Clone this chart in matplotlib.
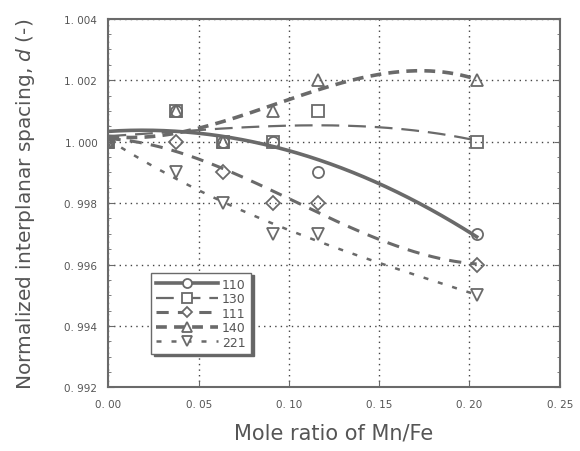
import numpy as np
import matplotlib
matplotlib.use("Agg")
import matplotlib.pyplot as plt
from matplotlib.ticker import FuncFormatter, MultipleLocator

# Data
x = [0.0, 0.0375, 0.0635, 0.091, 0.116, 0.204]
d110 = [1.000, 1.001, 1.000, 1.000, 0.999, 0.997]
d130 = [1.000, 1.001, 1.000, 1.000, 1.001, 1.000]
d111 = [1.000, 1.000, 0.999, 0.998, 0.998, 0.996]
d140 = [1.000, 1.001, 1.000, 1.001, 1.002, 1.002]
d221 = [1.000, 0.999, 0.998, 0.997, 0.997, 0.995]
labels = ["110", "130", "111", "140", "221"]
fit_degree = [2, 3, 3, 3, 3]

gray = "#6a6a6a"
txt = "#555555"

fig = plt.figure(figsize=(5.8, 4.52), dpi=100)
ax = fig.add_axes([0.187, 0.1405, 0.778, 0.816])

series = [d110, d130, d111, d140, d221]
markers = ["o", "s", "D", "^", "v"]
msizes = [8, 9, 7, 9, 9]
styles = [dict(ls="-", lw=2.6),
          dict(ls=(0, (8, 4)), lw=1.6),
          dict(ls=(0, (4, 3)), lw=2.2),
          dict(ls=(0, (3, 2)), lw=2.6),
          dict(ls=(0, (2, 4)), lw=1.8)]

xs = np.linspace(0, 0.204, 200)
handles = []
for ys, deg, m, ms, st in zip(series, fit_degree, markers, msizes, styles):
    c = np.polyfit(x, ys, deg)
    ax.plot(xs, np.polyval(c, xs), color=gray, **st, zorder=2)
    ax.plot(x, ys, ls="none", marker=m, ms=ms, mfc="none", mec=gray, mew=1.3, zorder=3)
    h, = ax.plot([], [], color=gray, marker=m, ms=ms - 1.5, mfc="white", mec=gray, mew=1.3, **st)
    handles.append(h)

ax.set_xlim(0, 0.25)
ax.set_ylim(0.992, 1.004)
ax.xaxis.set_major_locator(MultipleLocator(0.05))
ax.yaxis.set_major_locator(MultipleLocator(0.002))
ax.yaxis.set_minor_locator(MultipleLocator(0.0005))
ax.xaxis.set_major_formatter(FuncFormatter(lambda v, p: ("%.2f" % v).replace(".", ". ")))
ax.yaxis.set_major_formatter(FuncFormatter(lambda v, p: ("%.3f" % v).replace(".", ". ")))
ax.grid(True, which="major", ls=(0, (1, 3)), color="#444444", lw=1.0)
ax.tick_params(which="both", direction="in", colors=gray, labelcolor=txt, labelsize=7.5,
               right=True, left=True, top=False, pad=8)
ax.tick_params(which="major", length=4)
ax.tick_params(which="minor", length=2)
for s in ax.spines.values():
    s.set_color(gray)
    s.set_linewidth(1.5)

ax.set_xlabel("Mole ratio of Mn/Fe", fontsize=15, color=txt, labelpad=10)
ax.set_ylabel("Normalized interplanar spacing, $d$ (-)", fontsize=14.5, color=txt, labelpad=20)

leg = ax.legend(handles, labels, loc="lower left", bbox_to_anchor=(0.08, 0.075),
                handlelength=5.0, handletextpad=0.3, labelspacing=0.12, fontsize=9,
                fancybox=False, frameon=True, borderpad=0.4,
                shadow={"color": "#666666", "alpha": 1.0})
leg.get_frame().set_edgecolor(gray)
leg.get_frame().set_linewidth(1.0)
for t in leg.get_texts():
    t.set_color(txt)

fig.savefig("out.png", dpi=100)
